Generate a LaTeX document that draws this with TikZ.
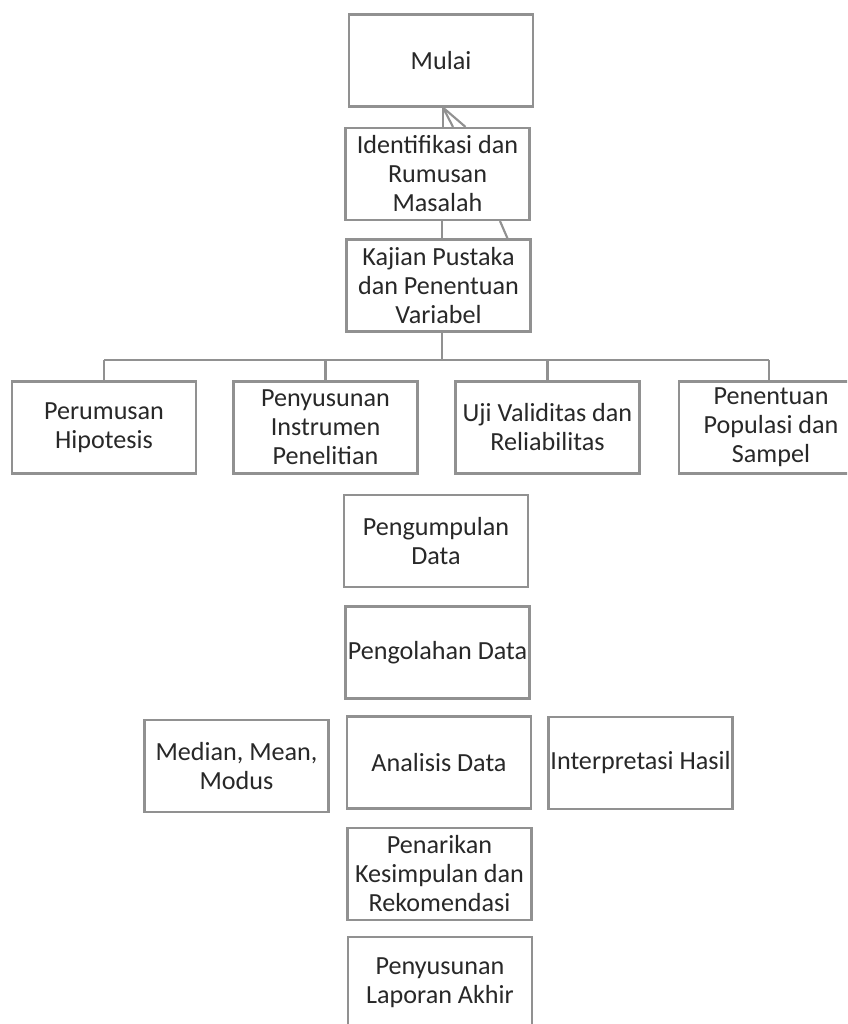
\documentclass[tikz,border=0pt]{standalone}
\usepackage{fontspec}
\setmainfont{Carlito}
\usetikzlibrary{calc}
\definecolor{bordercol}{RGB}{145,145,145}
\definecolor{textcol}{RGB}{40,40,40}
\begin{document}
\begin{tikzpicture}[x=0.75pt,y=-0.75pt,
  box/.style={draw=bordercol,line width=1.6pt,fill=white,text=textcol,align=center,
    inner sep=0pt,minimum width=138pt,minimum height=69pt,
    font=\fontsize{19.6}{21.75}\selectfont},
  conn/.style={draw=bordercol,line width=1.6pt}]
\useasboundingbox (0,0) rectangle (847,1024);
\clip (0,0) rectangle (847,1024);
\fill[white] (0,0) rectangle (847,1024);

\coordinate (bus) at (442,360);

\node[box] (mulai) at (441,60.5) {Mulai};
\node[box] (ident) at (437.5,174) {Identifikasi dan\\Rumusan\\Masalah};
\node[box] (kajian) at (438.5,285.5) {Kajian Pustaka\\dan Penentuan\\Variabel};

\node[box] (perumusan) at (104,427.5) {Perumusan\\Hipotesis};
\node[box] (penyusunan) at (325.5,427.5) {Penyusunan\\Instrumen\\Penelitian};
\node[box] (uji) at (547.5,427.5) {Uji Validitas dan\\Reliabilitas};
\node[box] (penentuan) at (771,427.5) {Penentuan\\Populasi dan\\Sampel};

\node[box] (pengumpulan) at (436,541) {Pengumpulan\\Data};
\node[box] (pengolahan) at (437.5,652.5) {Pengolahan Data};
\node[box] (median) at (236.5,766) {Median, Mean,\\Modus};
\node[box] (analisis) at (439,762.5) {Analisis Data};
\node[box] (interpretasi) at (640.5,763) {Interpretasi Hasil};
\node[box] (penarikan) at (439.5,874) {Penarikan\\Kesimpulan dan\\Rekomendasi};
\node[box] (laporan) at (440,983) {Penyusunan\\Laporan Akhir};

% connectors
\draw[conn] ($(mulai.south)+(2,0)$) -- ($(ident.north)+(5.5,0)$);
\draw[conn] ($(mulai.south)+(2,0)$) -- ($(ident.north)+(15.5,0)$);
\draw[conn] ($(mulai.south)+(2,0)$) -- ($(ident.north)+(28,0)$);
\draw[conn] ($(ident.south)+(4.5,0)$) -- ($(kajian.north)+(3.5,0)$);
\draw[conn] ($(ident.south)+(62.5,0)$) -- ($(kajian.north)+(69,0)$);
\draw[conn] ($(kajian.south)+(3.5,0)$) -- (bus);
\draw[conn] (perumusan.north |- bus) -- ($(penentuan.north |- bus)+(-2,0)$);
\draw[conn] (perumusan.north) -- (perumusan.north |- bus);
\draw[conn] (penyusunan.north) -- (penyusunan.north |- bus);
\draw[conn] (uji.north) -- (uji.north |- bus);
\draw[conn] ($(penentuan.north)+(-2,0)$) -- ($(penentuan.north |- bus)+(-2,0)$);
\end{tikzpicture}
\end{document}
